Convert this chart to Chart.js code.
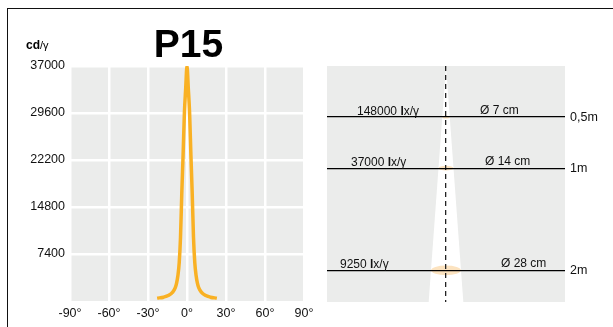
<!DOCTYPE html>
<html>
<head>
<meta charset="utf-8">
<script src="https://cdn.jsdelivr.net/npm/chart.js@4"></script>
<style>
  html, body { margin: 0; padding: 0; background: #fff; overflow: hidden; }
  #frame { position: absolute; left: 7px; top: 8px; width: 700px; height: 400px;
           border-left: 1.5px solid #111; border-top: 1.5px solid #111; }
  #left { position: absolute; left: 0; top: 0; }
  #right { position: absolute; left: 320px; top: 0; }
</style>
</head>
<body>
<div id="frame"></div>
<canvas id="left" width="320" height="327"></canvas>
<canvas id="right" width="293" height="327"></canvas>
<script>
// luminous intensity curve (cd/klm vs angle)
const angles = [-23, -18, -14, -11, -9, -8, -7, -6, -5, -4, -3, -2, -1, 0,
                1, 2, 3, 4, 5, 6, 7, 8, 9, 11, 14, 18, 23];
const intensity = [450, 600, 900, 1400, 2100, 2800, 4000, 6000, 10000, 17000, 23000, 29600, 33500, 37000,
                   33500, 29600, 23000, 17000, 10000, 6000, 4000, 2800, 2100, 1400, 900, 600, 450];
const angleTicks = [-90, -60, -30, 0, 30, 60, 90];
const intensityTicks = [7400, 14800, 22200, 29600, 37000];

// illuminance at distance
const distances = [0.5, 1, 2];
const distLabels = ['0,5m', '1m', '2m'];
const lux = [148000, 37000, 9250];
const diameters = [7, 14, 28];

const FONT = "'Liberation Sans', Arial, Helvetica, sans-serif";
Chart.defaults.font.family = FONT;
Chart.defaults.color = '#111';
const GRAY = '#ebeceb';

const leftDeco = {
  id: 'leftDeco',
  beforeDraw(chart) {
    const { ctx, chartArea: a } = chart;
    ctx.save();
    ctx.fillStyle = GRAY;
    ctx.fillRect(a.left, a.top, a.right - a.left, a.bottom - a.top);
    ctx.restore();
  },
  afterDraw(chart) {
    const { ctx } = chart;
    ctx.save();
    ctx.fillStyle = '#000';
    ctx.textAlign = 'center';
    ctx.textBaseline = 'alphabetic';
    ctx.font = 'bold 39px ' + FONT;
    ctx.fillText('P15', 188.5, 57);
    ctx.textAlign = 'left';
    ctx.font = 'bold 12px ' + FONT;
    ctx.fillText('cd', 26, 49);
    const w = ctx.measureText('cd').width;
    ctx.font = '11px ' + FONT;
    ctx.fillText('/γ', 26 + w, 49);
    ctx.restore();
  }
};

new Chart(document.getElementById('left'), {
  type: 'line',
  data: {
    datasets: [{
      data: angles.map((a, i) => ({ x: a, y: intensity[i] })),
      borderColor: '#f9b124',
      borderWidth: 3.5,
      pointRadius: 0,
      cubicInterpolationMode: 'monotone',
      fill: false
    }]
  },
  options: {
    responsive: false,
    animation: false,
    layout: { padding: { left: 20, right: 16, top: 66, bottom: 6 } },
    plugins: { legend: { display: false }, tooltip: { enabled: false } },
    scales: {
      x: {
        type: 'linear', min: -90, max: 90,
        afterBuildTicks: s => { s.ticks = angleTicks.map(v => ({ value: v })); },
        afterFit: s => { s.height = 20; },
        grid: { color: '#fff', lineWidth: 2.5, drawTicks: false },
        border: { display: false },
        ticks: { padding: 5, font: { size: 12.5 }, color: '#111', maxRotation: 0,
                 callback: v => v + '°' }
      },
      y: {
        type: 'linear', min: 0, max: 37000,
        afterBuildTicks: s => { s.ticks = intensityTicks.map(v => ({ value: v })); },
        afterFit: s => { s.width = 50; },
        grid: { color: '#fff', lineWidth: 2.5, drawTicks: false },
        border: { display: false },
        ticks: { padding: 5, font: { size: 12.5 }, color: '#111', callback: v => String(v) }
      }
    }
  },
  plugins: [leftDeco]
});

// label anchors (pixels, relative to right canvas)
const luxLabelX = [37, 31, 20];
const diaLabelX = [160, 165, 181];

const rightDeco = {
  id: 'rightDeco',
  beforeDraw(chart) {
    const { ctx, chartArea: a, scales: { x, y } } = chart;
    ctx.save();
    ctx.fillStyle = GRAY;
    ctx.fillRect(a.left, a.top, a.right - a.left, a.bottom - a.top);
    // light cone, spread taken from the last measured diameter
    const lastD = distances[distances.length - 1];
    const halfBottom = diameters[diameters.length - 1] / 2 * (y.max / lastD);
    ctx.fillStyle = '#fff';
    ctx.beginPath();
    ctx.moveTo(x.getPixelForValue(0), y.getPixelForValue(0));
    ctx.lineTo(x.getPixelForValue(-halfBottom), y.getPixelForValue(y.max));
    ctx.lineTo(x.getPixelForValue(halfBottom), y.getPixelForValue(y.max));
    ctx.closePath();
    ctx.fill();
    // spot ellipses
    ctx.fillStyle = '#fce3c0';
    distances.forEach((d, i) => {
      const cx = x.getPixelForValue(0);
      const rx = x.getPixelForValue(diameters[i] / 2) - cx;
      ctx.beginPath();
      ctx.ellipse(cx, y.getPixelForValue(d), rx, Math.max(rx * 0.32, 1.5), 0, 0, Math.PI * 2);
      ctx.fill();
    });
    ctx.restore();
  },
  afterDraw(chart) {
    const { ctx, scales: { y } } = chart;
    ctx.save();
    ctx.fillStyle = '#111';
    ctx.textBaseline = 'alphabetic';
    ctx.textAlign = 'left';
    distances.forEach((d, i) => {
      const base = y.getPixelForValue(d) - 2.5;
      let px = luxLabelX[i];
      ctx.font = '12px ' + FONT;
      const num = lux[i] + ' ';
      ctx.fillText(num, px, base);
      px += ctx.measureText(num).width;
      ctx.font = 'bold 12px ' + FONT;
      ctx.fillText('l', px, base);
      px += ctx.measureText('l').width;
      ctx.font = '12px ' + FONT;
      ctx.fillText('x/γ', px, base);
      ctx.fillText('Ø ' + diameters[i] + ' cm', diaLabelX[i], base - 1);
    });
    ctx.restore();
  }
};

new Chart(document.getElementById('right'), {
  type: 'scatter',
  data: {
    datasets: [{
      data: distances.map(d => ({ x: 0, y: d })),
      pointRadius: 0,
      showLine: false
    }]
  },
  options: {
    responsive: false,
    animation: false,
    layout: { padding: { left: 7, right: 0, top: 66, bottom: 25 } },
    plugins: { legend: { display: false }, tooltip: { enabled: false } },
    scales: {
      x: {
        type: 'linear', min: -111, max: 111,
        afterBuildTicks: s => { s.ticks = [{ value: 0 }]; },
        afterFit: s => { s.height = 0; },
        grid: { color: '#222', lineWidth: 1.3, drawTicks: false },
        border: { display: false, dash: [5, 4] },
        ticks: { display: false }
      },
      y: {
        type: 'linear', position: 'right', reverse: true, min: 0, max: 2.31,
        afterBuildTicks: s => { s.ticks = distances.map(v => ({ value: v })); },
        afterFit: s => { s.width = 48; },
        grid: { color: '#000', lineWidth: 1.3, drawTicks: false },
        border: { display: false },
        ticks: { padding: 5, font: { size: 12.5 }, color: '#111',
                 callback: (v) => distLabels[distances.indexOf(v)] }
      }
    }
  },
  plugins: [rightDeco]
});
</script>
</body>
</html>
